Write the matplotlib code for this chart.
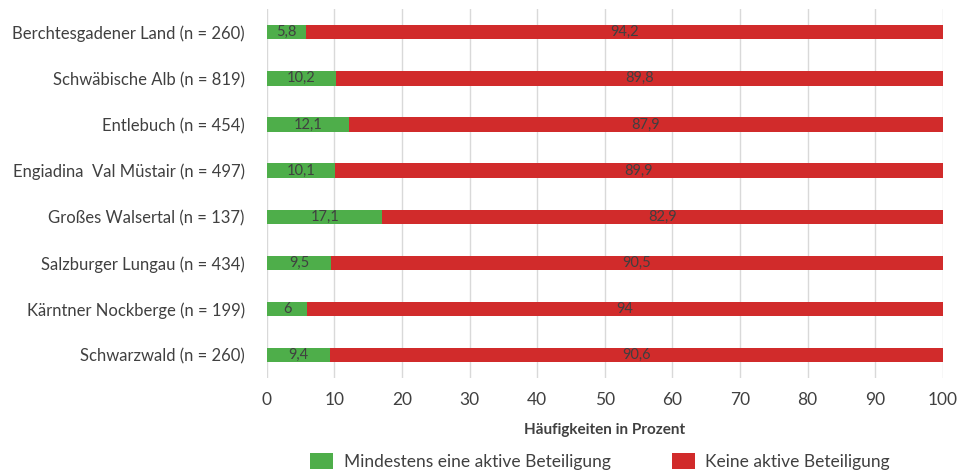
import matplotlib
matplotlib.use("Agg")
import matplotlib.pyplot as plt

regions = [
    "Berchtesgadener Land (n = 260)",
    "Schwäbische Alb (n = 819)",
    "Entlebuch (n = 454)",
    "Engiadina  Val Müstair (n = 497)",
    "Großes Walsertal (n = 137)",
    "Salzburger Lungau (n = 434)",
    "Kärntner Nockberge (n = 199)",
    "Schwarzwald (n = 260)",
]
aktiv = [5.8, 10.2, 12.1, 10.1, 17.1, 9.5, 6, 9.4]
keine = [94.2, 89.8, 87.9, 89.9, 82.9, 90.5, 94, 90.6]
aktiv_labels = ["5,8", "10,2", "12,1", "10,1", "17,1", "9,5", "6", "9,4"]
keine_labels = ["94,2", "89,8", "87,9", "89,9", "82,9", "90,5", "94", "90,6"]

plt.rcParams["font.family"] = ["Lato", "DejaVu Sans"]
text_col = "#404040"
green = "#4EAE4A"
red = "#D12B2B"

fig = plt.figure(figsize=(9.6, 4.74), dpi=100)
ax = fig.add_axes([0.278, 0.2025, 0.704, 0.778])

y = list(range(len(regions)))
b1 = ax.barh(y, aktiv, height=0.31, color=green, label="Mindestens eine aktive Beteiligung", zorder=3)
b2 = ax.barh(y, keine, left=aktiv, height=0.31, color=red, label="Keine aktive Beteiligung", zorder=3)
ax.bar_label(b1, labels=aktiv_labels, label_type="center", fontsize=10.5, color=text_col)
ax.bar_label(b2, labels=keine_labels, label_type="center", fontsize=10.5, color=text_col)

ax.set_ylim(len(regions) - 0.5, -0.5)
ax.set_xlim(0, 100)
ax.set_xticks(range(0, 101, 10))
ax.set_yticks(y)
ax.set_yticklabels(regions)
ax.tick_params(axis="y", length=0, pad=16, labelsize=12, labelcolor=text_col)
ax.tick_params(axis="x", length=0, pad=10, labelsize=12.5, labelcolor=text_col)
ax.grid(axis="x", color="#D9D9D9", linewidth=1, zorder=0)
for s in ax.spines.values():
    s.set_visible(False)

ax.set_xlabel("Häufigkeiten in Prozent", fontsize=11, fontweight="bold", color=text_col, labelpad=11)

fig.legend(handles=[b1, b2], loc="lower center", bbox_to_anchor=(0.625, -0.024), ncol=2,
           frameon=False, fontsize=12.5, labelcolor=text_col, handlelength=1.35, handleheight=1.1,
           columnspacing=3.5, handletextpad=0.6)

fig.savefig("out.png", dpi=100)
